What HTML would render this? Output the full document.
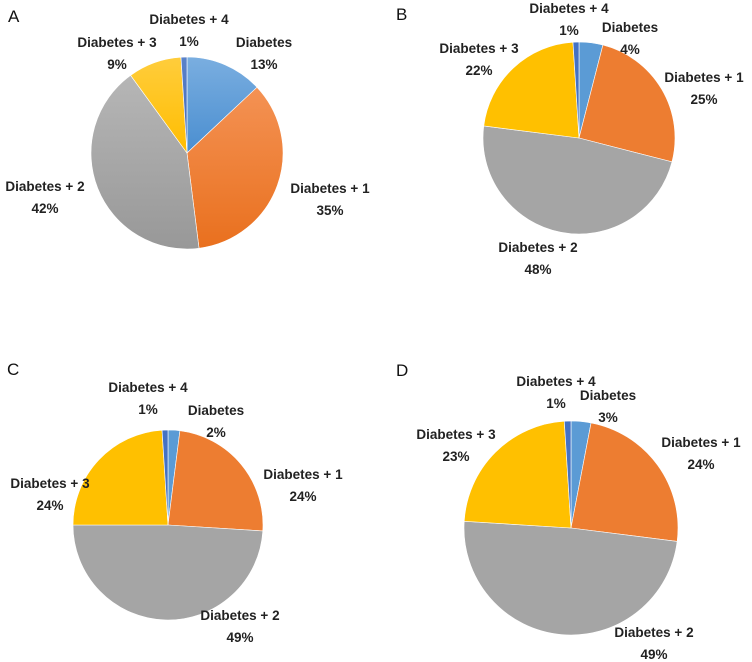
<!DOCTYPE html>
<html><head><meta charset="utf-8">
<style>
html,body{margin:0;padding:0;background:#fff;}
svg{display:block;}
text{font-family:"Liberation Sans",sans-serif;}
.lb{font-weight:bold;font-size:13.5px;fill:#222;text-anchor:middle;}
.panel{font-size:17px;fill:#111;}
</style></head>
<body>
<svg id="chart" width="752" height="662" viewBox="0 0 752 662">
<defs>
<linearGradient id="gBlue" x1="0" y1="0" x2="0" y2="1"><stop offset="0" stop-color="#7aaee0"/><stop offset="1" stop-color="#4a8ed0"/></linearGradient>
<linearGradient id="gOrange" x1="0" y1="0" x2="0" y2="1"><stop offset="0" stop-color="#f49254"/><stop offset="1" stop-color="#e9701e"/></linearGradient>
<linearGradient id="gGray" x1="0" y1="0" x2="0" y2="1"><stop offset="0" stop-color="#b6b6b6"/><stop offset="1" stop-color="#989898"/></linearGradient>
<linearGradient id="gYellow" x1="0" y1="0" x2="0" y2="1"><stop offset="0" stop-color="#ffcd3c"/><stop offset="1" stop-color="#ffbd00"/></linearGradient>
<linearGradient id="gDark" x1="0" y1="0" x2="0" y2="1"><stop offset="0" stop-color="#5a82c9"/><stop offset="1" stop-color="#4068b8"/></linearGradient>
</defs>
<text class="panel" x="8" y="22">A</text>
<text class="panel" x="396" y="20">B</text>
<text class="panel" x="7" y="375">C</text>
<text class="panel" x="396" y="376">D</text>
</svg>
<script>
const categories = ["Diabetes", "Diabetes + 1", "Diabetes + 2", "Diabetes + 3", "Diabetes + 4"];
const valuesA = [13, 35, 42, 9, 1];
const valuesB = [4, 25, 48, 22, 1];
const valuesC = [2, 24, 49, 24, 1];
const valuesD = [3, 24, 49, 23, 1];

const flatColors = ["#5b9bd5", "#ed7d31", "#a5a5a5", "#ffc000", "#4472c4"];
const gradColors = ["url(#gBlue)", "url(#gOrange)", "url(#gGray)", "url(#gYellow)", "url(#gDark)"];
const NS = "http://www.w3.org/2000/svg";
const svg = document.getElementById("chart");

const panels = [
  {id:"a", values:valuesA, cx:187, cy:153, r:96, colors:gradColors,
   labels:[[264,42],[330,188],[45,186],[117,42],[189,19]]},
  {id:"b", values:valuesB, cx:579, cy:138, r:96, colors:flatColors,
   labels:[[630,27],[704,77],[538,247],[479,48],[569,8]]},
  {id:"c", values:valuesC, cx:168, cy:525, r:95, colors:flatColors,
   labels:[[216,410],[303,474],[240,615],[50,483],[148,387]]},
  {id:"d", values:valuesD, cx:571, cy:528, r:107, colors:flatColors,
   labels:[[608,395],[701,442],[654,632],[456,434],[556,381]]}
];

function angleScale(v, total){ return v / total * Math.PI * 2; }

panels.forEach(p => {
  const g = document.createElementNS(NS, "g");
  
  
  svg.appendChild(g);
  const total = p.values.reduce((a,b)=>a+b,0);
  let a0 = -Math.PI/2;
  p.values.forEach((v,i) => {
    const a1 = a0 + angleScale(v,total);
    const x0 = p.cx + p.r*Math.cos(a0), y0 = p.cy + p.r*Math.sin(a0);
    const x1 = p.cx + p.r*Math.cos(a1), y1 = p.cy + p.r*Math.sin(a1);
    const large = (a1-a0) > Math.PI ? 1 : 0;
    const path = document.createElementNS(NS, "path");
    path.setAttribute("d", `M${p.cx},${p.cy} L${x0},${y0} A${p.r},${p.r} 0 ${large} 1 ${x1},${y1} Z`);
    path.setAttribute("fill", p.colors[i]);
    path.setAttribute("stroke", "#fff");
    path.setAttribute("stroke-width", "0.6");
    
    
    g.appendChild(path);
    a0 = a1;
  });
  p.values.forEach((v,i) => {
    const [lx,ly] = p.labels[i];
    const t1 = document.createElementNS(NS, "text");
    t1.setAttribute("class","lb");
    t1.setAttribute("x", lx); t1.setAttribute("y", ly+5);
    t1.textContent = categories[i];
    
    
    g.appendChild(t1);
    const t2 = document.createElementNS(NS, "text");
    t2.setAttribute("class","lb");
    t2.setAttribute("x", lx); t2.setAttribute("y", ly+27);
    t2.textContent = v + "%";
    
    
    g.appendChild(t2);
  });
});
</script>
</body></html>
